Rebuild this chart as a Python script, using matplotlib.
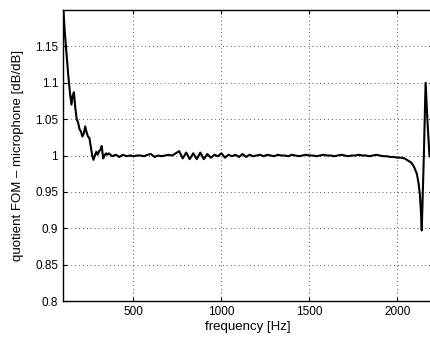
import numpy as np
import matplotlib.pyplot as plt

plt.rcParams['font.family'] = ['Liberation Sans', 'DejaVu Sans']

# frequency [Hz] and quotient values
freq_start = [100, 110, 120, 130, 140, 148, 155, 162, 170, 178, 186, 194,
              202, 210, 218, 226, 234, 242, 250, 258, 266, 273, 281, 289,
              297, 305, 313, 320, 328, 336, 344, 352]
q_start = [1.21, 1.17, 1.14, 1.11, 1.085, 1.07, 1.082, 1.087, 1.065, 1.05,
           1.045, 1.036, 1.033, 1.026, 1.03, 1.04, 1.032, 1.026, 1.024, 1.012,
           1.0, 0.994, 1.0, 1.005, 1.001, 1.006, 1.008, 1.013, 0.996, 1.0,
           1.003, 1.001]

freq_mid = list(range(360, 2001, 20))
q_mid = [1.003, 0.999, 1.001, 0.998, 1.001, 0.999, 1.000, 0.999, 1.000, 1.000,
         0.999, 1.001, 1.002, 0.998, 1.000, 0.999, 1.000, 1.001, 1.000, 1.003,
         1.006, 0.996, 1.004, 0.995, 1.003, 0.995, 1.004, 0.995, 1.002, 0.997,
         1.001, 0.999, 1.003, 0.997, 1.001, 0.999, 1.001, 0.998, 1.002, 0.998,
         1.001, 0.999, 1.000, 1.001, 0.999, 1.001, 1.000, 0.999, 1.001, 1.000,
         1.000, 0.999, 1.001, 1.000, 0.999, 1.000, 1.001, 1.000, 1.000, 0.999,
         1.000, 1.001, 1.000, 1.000, 0.999, 1.000, 1.001, 1.000, 0.999, 1.000,
         1.000, 1.001, 1.000, 1.000, 0.999, 1.000, 1.001, 1.000, 0.999, 0.999,
         0.998, 0.998, 0.997]

freq_end = [2020, 2040, 2060, 2080, 2095, 2110, 2120, 2128, 2134, 2138,
            2150, 2160, 2170, 2182]
q_end = [0.997, 0.996, 0.993, 0.99, 0.984, 0.975, 0.962, 0.945, 0.92, 0.897,
         1.0, 1.1, 1.05, 0.999]

freq = np.array(freq_start + freq_mid + freq_end)
q = np.array(q_start + q_mid + q_end)

fig = plt.figure(figsize=(4.3, 3.38), dpi=100)
# axes run a few pixels past the right edge, as in the cropped reference
ax = fig.add_axes([63 / 430, 1 - 301 / 338, 370 / 430, 291 / 338])
ax.plot(freq, q, color='k', lw=1.5)

ax.set_xlim(100, 2202)
ax.set_ylim(0.8, 1.2)
ax.set_xticks([500, 1000, 1500, 2000])
ax.set_yticks([0.8, 0.85, 0.9, 0.95, 1, 1.05, 1.1, 1.15])
ax.set_yticklabels(['0.8', '0.85', '0.9', '0.95', '1', '1.05', '1.1', '1.15'])
ax.grid(True, linestyle=(0, (1, 3)), color='0.35', lw=0.7)
ax.tick_params(direction='in', length=3, labelsize=8.5, top=True, right=True,
               width=0.8)
for s in ax.spines.values():
    s.set_linewidth(1.0)
ax.set_xlabel('frequency [Hz]', fontsize=9.5, labelpad=2)
ax.set_ylabel('quotient FOM – microphone [dB/dB]', fontsize=9.5, labelpad=8)

fig.savefig('out.png', dpi=100)
